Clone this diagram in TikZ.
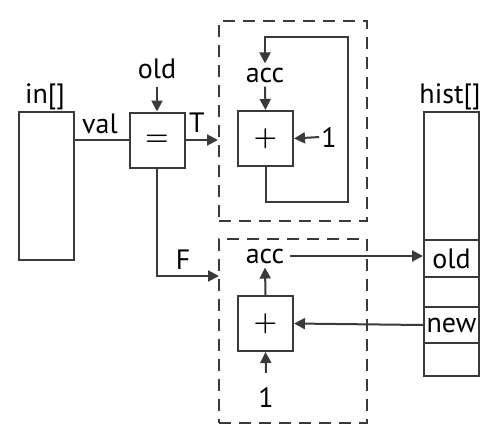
\documentclass[tikz,border=0pt]{standalone}
\usepackage{fontspec}
\setmainfont{PT Sans}
\usetikzlibrary{arrows.meta}
\definecolor{lc}{HTML}{3A3A3A}
\newcommand{\opsym}[1]{\scalebox{1.3}{\boldmath$#1$}}
\begin{document}
\begin{tikzpicture}[x=1pt,y=-1pt,
  every node/.style={font=\fontsize{28}{32}\selectfont, text=black},
  ln/.style={draw=lc, line width=2pt},
  arr/.style={ln, -{Triangle[length=11pt,width=11pt]}},
  opbox/.style={draw=lc, line width=2pt, minimum width=55pt, minimum height=55pt, inner sep=0pt, font=\fontsize{20.74}{24}\selectfont},
  cell/.style={draw=lc, line width=2pt, minimum width=55pt, inner sep=0pt, anchor=north west},
  dbox/.style={draw=lc, line width=2pt, dash pattern=on 12pt off 8pt, inner sep=0pt},
  lbl/.style={inner sep=4pt, anchor=base}]
\useasboundingbox (0,0) rectangle (497,442);
% dashed groups
\node[dbox, minimum width=148pt, minimum height=200pt] (topd) at (293,121) {};
\node[dbox, minimum width=148pt, minimum height=184pt] (botd) at (293,331) {};
% input array
\node[cell, minimum height=148pt] (in) at (18,111) {};
\node[lbl] (inl) at (45,103) {in[]};
% comparison
\node[opbox] (eq) at (157,140) {\opsym{=}};
\node[lbl] (oldl) at (157,78) {old};
\node[lbl] (val) at (100,133) {val};
\node[lbl] (tl) at (197,132) {T};
\node[lbl] (fl) at (183,269) {F};
\coordinate (fe) at (219,276);
\draw[ln] (eq.west -| in.east) -- (eq.west);
\draw[arr] ([yshift=-4pt]oldl.south) -- (eq.north);
\draw[arr] (eq.east) -- (eq.east -| topd.west);
\draw[arr] (eq.south) |- (fe);
% top group
\node[opbox] (p1) at (265.5,138.5) {\opsym{+}};
\node[lbl] (acca) at (265,82) {acc};
\node[lbl] (onea) at (329,147) {1};
\coordinate (l1) at (348,202);
\coordinate (l2) at (348,37);
\draw[arr] (acca.south) -- (p1.north);
\draw[arr] ([xshift=2pt]onea.west) -- (p1.east);
\draw[arr] (p1.south) |- (l1) -- (l2) -| (acca.north);
% bottom group
\node[opbox] (p2) at (265.5,323.5) {\opsym{+}};
\node[lbl] (accb) at (265,263) {acc};
\node[lbl] (oneb) at (266,407) {1};
\draw[arr] (p2.north) -- (accb.south);
\draw[arr] ([yshift=10pt]oneb.north) -- (p2.south);
% history array
\node[lbl] (histl) at (450,103) {hist[]};
\node[cell, minimum height=128pt] (h0) at (423,111) {};
\node[cell, minimum height=37pt] (oldc) at (423,239) {old};
\node[cell, minimum height=30pt] (h2) at (423,276) {};
\node[cell, minimum height=36pt] (newc) at (423,306) {new};
\node[cell, minimum height=33pt] (h4) at (423,342) {};
\draw[arr] ([xshift=2pt]accb.east) -- (accb.east -| oldc.west);
\draw[arr] (newc.west) -- (p2.east);
\end{tikzpicture}
\end{document}
